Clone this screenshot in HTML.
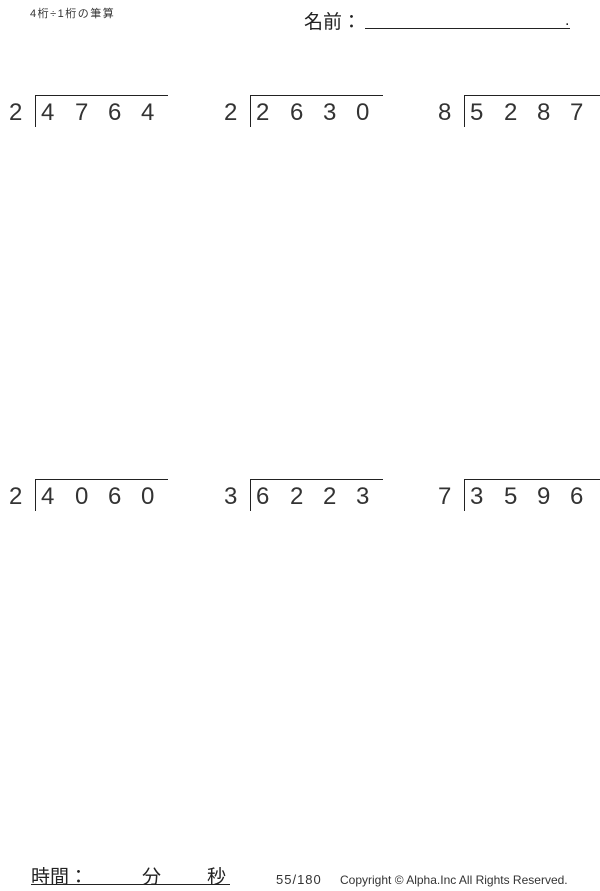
<!DOCTYPE html>
<html><head><meta charset="utf-8"><style>
body{margin:0;width:600px;height:891px;background:#fff;position:relative;overflow:hidden;font-family:"Liberation Sans","Noto Sans CJK JP",sans-serif;color:#222}
.a{position:absolute;white-space:nowrap}
.d{position:absolute;font-size:24px;line-height:24px;color:#333}
.h{position:absolute;height:1px;background:#222}
.v{position:absolute;width:1px;background:#222}
</style></head><body>
<div class="a" style="left:30px;top:5px;font-size:11px;color:#333;letter-spacing:1.5px">4桁÷1桁の筆算</div>
<div class="a" style="left:304px;top:7px;font-size:19px">名前：</div>
<div class="h" style="left:365px;top:28px;width:205px"></div>
<div class="a" style="left:565px;top:12px;font-size:16px">.</div>

<!-- row 1 -->
<div class="d" style="left:9px;top:101px">2</div>
<div class="v" style="left:35px;top:95px;height:32px"></div><div class="h" style="left:35px;top:95px;width:133px"></div>
<div class="d" style="left:41px;top:101px">4</div><div class="d" style="left:75px;top:101px">7</div><div class="d" style="left:108px;top:101px">6</div><div class="d" style="left:141px;top:101px">4</div>

<div class="d" style="left:224px;top:101px">2</div>
<div class="v" style="left:250px;top:95px;height:32px"></div><div class="h" style="left:250px;top:95px;width:133px"></div>
<div class="d" style="left:256px;top:101px">2</div><div class="d" style="left:290px;top:101px">6</div><div class="d" style="left:323px;top:101px">3</div><div class="d" style="left:356px;top:101px">0</div>

<div class="d" style="left:438px;top:101px">8</div>
<div class="v" style="left:464px;top:95px;height:32px"></div><div class="h" style="left:464px;top:95px;width:136px"></div>
<div class="d" style="left:470px;top:101px">5</div><div class="d" style="left:504px;top:101px">2</div><div class="d" style="left:537px;top:101px">8</div><div class="d" style="left:570px;top:101px">7</div>

<!-- row 2 -->
<div class="d" style="left:9px;top:485px">2</div>
<div class="v" style="left:35px;top:479px;height:32px"></div><div class="h" style="left:35px;top:479px;width:133px"></div>
<div class="d" style="left:41px;top:485px">4</div><div class="d" style="left:75px;top:485px">0</div><div class="d" style="left:108px;top:485px">6</div><div class="d" style="left:141px;top:485px">0</div>

<div class="d" style="left:224px;top:485px">3</div>
<div class="v" style="left:250px;top:479px;height:32px"></div><div class="h" style="left:250px;top:479px;width:133px"></div>
<div class="d" style="left:256px;top:485px">6</div><div class="d" style="left:290px;top:485px">2</div><div class="d" style="left:323px;top:485px">2</div><div class="d" style="left:356px;top:485px">3</div>

<div class="d" style="left:438px;top:485px">7</div>
<div class="v" style="left:464px;top:479px;height:32px"></div><div class="h" style="left:464px;top:479px;width:136px"></div>
<div class="d" style="left:470px;top:485px">3</div><div class="d" style="left:504px;top:485px">5</div><div class="d" style="left:537px;top:485px">9</div><div class="d" style="left:570px;top:485px">6</div>

<!-- footer -->
<div class="a" style="left:31px;top:862px;font-size:19px">時間：</div>
<div class="a" style="left:142px;top:862px;font-size:19px">分</div>
<div class="a" style="left:207px;top:862px;font-size:19px">秒</div>
<div class="h" style="left:31px;top:884px;width:199px"></div>
<div class="a" style="left:276px;top:872px;font-size:13px;color:#333;letter-spacing:1px">55/180</div>
<div class="a" style="left:340px;top:873px;font-size:12px;color:#333">Copyright © Alpha.Inc All Rights Reserved.</div>
</body></html>
